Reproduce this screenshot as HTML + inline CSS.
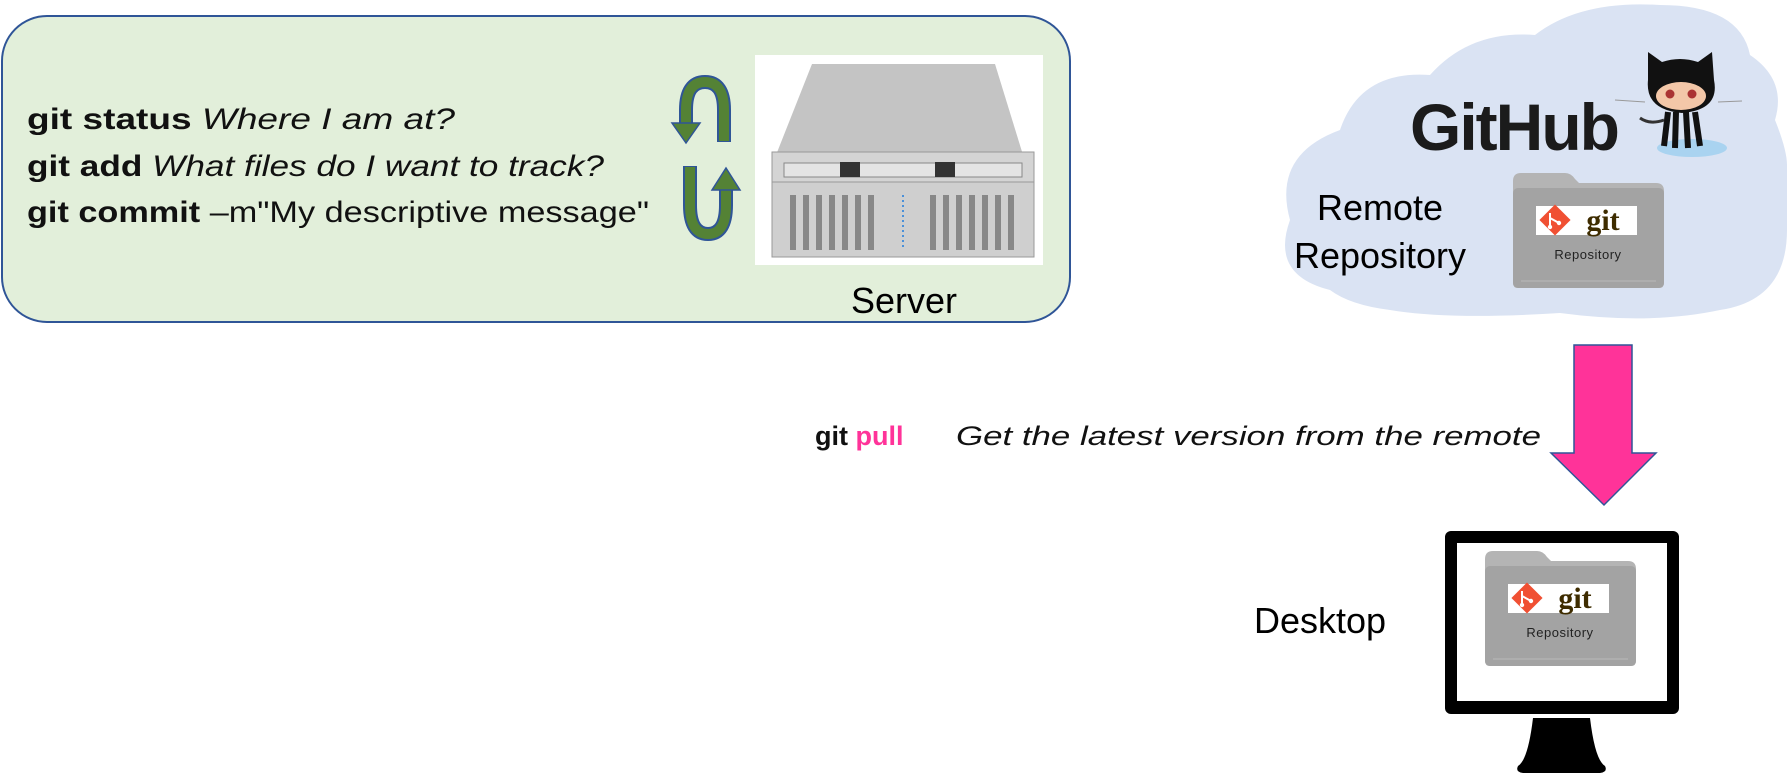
<!DOCTYPE html>
<html><head><meta charset="utf-8"><style>
html,body{margin:0;padding:0;background:#fff;}
svg{display:block;}
</style></head><body>
<svg width="1787" height="775" viewBox="0 0 1787 775" xmlns="http://www.w3.org/2000/svg" font-family="Liberation Sans, sans-serif">
<defs>
<g id="folder">
  <path d="M0,8 Q0,0 8,0 L52,0 Q58,0 62,6 L66,10 L143,10 Q151,10 151,18 L151,110 Q151,115 146,115 L5,115 Q0,115 0,110 Z" fill="#b4b4b4"/>
  <rect x="0" y="15" width="151" height="100" rx="5" fill="#a3a3a3"/>
  <line x1="8" y1="108" x2="143" y2="108" stroke="#b8b8b8" stroke-width="1"/>
  <rect x="23" y="33" width="101" height="29" fill="#fff"/>
  <rect x="31" y="36" width="22" height="22" fill="#f05033" transform="rotate(45 42 47)"/>
  <path d="M37,40 L37,54 M37,45 L46,50" stroke="#fff" stroke-width="2" fill="none"/>
  <circle cx="37" cy="54" r="2.2" fill="#fff"/><circle cx="46" cy="50" r="2.2" fill="#fff"/>
  <text x="90" y="57" font-family="Liberation Serif, serif" font-weight="bold" font-size="30" fill="#3e2c00" text-anchor="middle">git</text>
  <text x="75" y="86" font-size="13" fill="#222" text-anchor="middle" letter-spacing="0.5">Repository</text>
</g>
</defs>

<!-- green box -->
<rect x="2" y="16" width="1068" height="306" rx="45" fill="#e2efda" stroke="#2f5597" stroke-width="2"/>
<text x="27" y="129" font-size="30" fill="#111" textLength="428" lengthAdjust="spacingAndGlyphs"><tspan font-weight="bold">git status</tspan>  <tspan font-style="italic">Where I am at?</tspan></text>
<text x="27" y="176" font-size="30" fill="#111" textLength="577" lengthAdjust="spacingAndGlyphs"><tspan font-weight="bold">git add</tspan>  <tspan font-style="italic">What files do I want to track?</tspan></text>
<text x="27" y="222" font-size="30" fill="#111" textLength="622" lengthAdjust="spacingAndGlyphs"><tspan font-weight="bold">git commit</tspan> –m"My descriptive message"</text>

<!-- cycle arrows -->
<g fill="none" stroke-linecap="butt">
<path d="M724,142 L724,110 Q724,82 705,82 Q686,82 686,110 L686,124" stroke="#2f5597" stroke-width="14"/>
<path d="M724,141 L724,110 Q724,82 705,82 Q686,82 686,110 L686,125" stroke="#548235" stroke-width="10"/>
<path d="M690,166 L690,205 Q690,234 708,234 Q726,234 726,205 L726,190" stroke="#2f5597" stroke-width="14"/>
<path d="M690,167 L690,205 Q690,234 708,234 Q726,234 726,205 L726,189" stroke="#548235" stroke-width="10"/>
</g>
<polygon points="672,123 700,123 686,143" fill="#548235" stroke="#2f5597" stroke-width="1.5"/>
<polygon points="712,190 740,190 726,168" fill="#548235" stroke="#2f5597" stroke-width="1.5"/>

<!-- server -->
<rect x="755" y="55" width="288" height="210" fill="#fff"/>
<polygon points="812,64 995,64 1023,155 776,155" fill="#c4c4c4"/>
<rect x="772" y="152" width="262" height="30" fill="#d4d4d4" stroke="#999"/>
<rect x="784" y="163" width="238" height="14" fill="#e4e4e4" stroke="#888"/>
<rect x="840" y="162" width="20" height="15" fill="#333"/><rect x="935" y="162" width="20" height="15" fill="#333"/>
<rect x="772" y="182" width="262" height="75" fill="#cfcfcf" stroke="#999"/>
<g fill="#888">
<rect x="790" y="195" width="6" height="55"/><rect x="803" y="195" width="6" height="55"/><rect x="816" y="195" width="6" height="55"/><rect x="829" y="195" width="6" height="55"/><rect x="842" y="195" width="6" height="55"/><rect x="855" y="195" width="6" height="55"/><rect x="868" y="195" width="6" height="55"/>
<rect x="930" y="195" width="6" height="55"/><rect x="943" y="195" width="6" height="55"/><rect x="956" y="195" width="6" height="55"/><rect x="969" y="195" width="6" height="55"/><rect x="982" y="195" width="6" height="55"/><rect x="995" y="195" width="6" height="55"/><rect x="1008" y="195" width="6" height="55"/>
</g>
<line x1="903" y1="195" x2="903" y2="250" stroke="#4a90d9" stroke-width="2" stroke-dasharray="2,3"/>
<text x="904" y="313" font-size="36" fill="#000" text-anchor="middle">Server</text>

<!-- cloud -->
<path d="M1330,290 Q1270,275 1290,220 Q1272,155 1340,130 Q1360,70 1430,75 Q1470,30 1535,35 Q1580,0 1660,5 Q1740,5 1750,55 Q1787,80 1775,120 Q1787,150 1787,165 L1787,230 Q1787,300 1720,310 Q1650,325 1560,313 Q1450,320 1390,310 Q1350,305 1330,290 Z" fill="#dae3f3"/>
<text x="1410" y="150" font-size="66" font-weight="bold" fill="#1b1b1b" letter-spacing="-2">GitHub</text>
<!-- octocat -->
<ellipse cx="1692" cy="148" rx="35" ry="9" fill="#a9d3f0"/>
<path d="M1648,80 L1648,52 L1662,62 Q1680,56 1698,62 L1712,52 L1714,80 Q1720,110 1682,113 Q1645,110 1648,80 Z" fill="#111"/>
<ellipse cx="1681" cy="96" rx="25" ry="14" fill="#f3c7a8"/>
<circle cx="1670" cy="94" r="4.5" fill="#a33"/><circle cx="1692" cy="94" r="4.5" fill="#a33"/>
<path d="M1668,112 L1664,146 M1676,112 L1675,148 M1686,112 L1688,148 M1695,112 L1700,146" stroke="#111" stroke-width="6"/>
<path d="M1664,120 Q1650,125 1640,118" stroke="#333" stroke-width="3" fill="none"/>
<path d="M1615,100 L1645,102 M1718,102 L1742,101" stroke="#999" stroke-width="1"/>
<text x="1380" y="220" font-size="36" fill="#000" text-anchor="middle">Remote</text>
<text x="1380" y="268" font-size="36" fill="#000" text-anchor="middle">Repository</text>
<use href="#folder" x="1513" y="173"/>

<!-- pull arrow -->
<polygon points="1574,345 1632,345 1632,453 1656,453 1604,505 1551,453 1574,453" fill="#ff3399" stroke="#2f5597" stroke-width="1.5"/>
<text x="815" y="445" font-size="27" font-weight="bold" fill="#111">git <tspan fill="#ff3399">pull</tspan></text>
<text x="956" y="445" font-size="27" font-style="italic" fill="#111" textLength="585" lengthAdjust="spacingAndGlyphs">Get the latest version from the remote</text>

<!-- desktop -->
<rect x="1445" y="531" width="234" height="183" rx="6" fill="#000"/>
<rect x="1457" y="543" width="210" height="158" fill="#fff"/>
<path d="M1533,718 L1590,718 Q1595,760 1605,766 Q1608,772 1600,773 L1523,773 Q1515,772 1518,766 Q1528,760 1533,718 Z" fill="#000"/>
<use href="#folder" x="1485" y="551"/>
<text x="1254" y="633" font-size="36" fill="#000">Desktop</text>
</svg>
</body></html>
